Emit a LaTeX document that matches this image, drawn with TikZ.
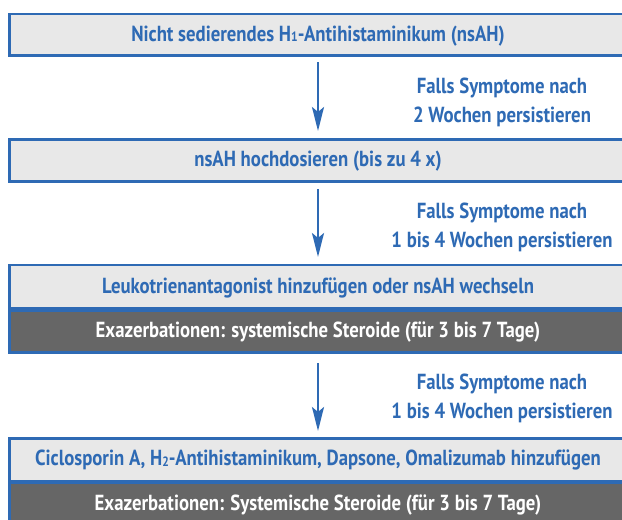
\documentclass[tikz,border=0pt]{standalone}
\usepackage{fontspec}
\setmainfont{PT Sans}[FakeStretch=0.86]
\usetikzlibrary{arrows.meta}
\definecolor{bl}{HTML}{2E6AB4}
\definecolor{lg}{HTML}{E8E8E8}
\definecolor{dg}{HTML}{666666}
\newcommand{\sbs}[1]{\raisebox{-0.8pt}{\fontsize{13.5}{13.5}\selectfont #1}}
\tikzset{
  lightbox/.style={draw=bl, line width=2.5pt, fill=lg},
  darkbox/.style={draw=bl, line width=2.5pt, fill=dg},
  boxtext/.style={font=\bfseries\fontsize{21.8}{24}\selectfont, text=bl, anchor=base, inner sep=0pt},
  darktext/.style={font=\bfseries\fontsize{21.8}{24}\selectfont, text=white, anchor=base, inner sep=0pt},
  note/.style={font=\bfseries\fontsize{21.8}{24}\selectfont, text=bl, anchor=base, inner sep=0pt},
  flow/.style={draw=bl, line width=2.5pt, -{Stealth[length=24pt, width=12pt, inset=5pt]}}
}
\begin{document}
\begin{tikzpicture}[x=1pt,y=-1pt]
\useasboundingbox (0,0) rectangle (622,520);
% box 1
\path[lightbox] (9.3,13.8) rectangle (628,55.6);
\node[boxtext] (b1) at (318,41) {Nicht sedierendes H\sbs{1}-Antihistaminikum (nsAH)};
% box 2
\path[lightbox] (9.3,139.3) rectangle (628,181.5);
\node[boxtext] (b2) at (318,166.5) {nsAH hochdosieren (bis zu 4 x)};
% box 3
\path[lightbox] (9.3,265.2) rectangle (628,308.6);
\node[boxtext] (b3) at (318,293.2) {Leukotrienantagonist hinzufügen oder nsAH wechseln};
\path[darkbox] (9.3,310.5) rectangle (628,352.3);
\node[darktext] (d3) at (318,337.8) {Exazerbationen: systemische Steroide (für 3 bis 7 Tage)};
% box 4
\path[lightbox] (9.3,438.3) rectangle (628,480.8);
\node[boxtext] (b4) at (318,465.2) {Ciclosporin A, H\sbs{2}-Antihistaminikum, Dapsone, Omalizumab hinzufügen};
\path[darkbox] (9.3,482.7) rectangle (628,530);
\node[darktext] (d4) at (318,510) {Exazerbationen: Systemische Steroide (für 3 bis 7 Tage)};
% arrows
\coordinate (a1s) at (318,62); \coordinate (a1e) at (318,131);
\coordinate (a2s) at (318,189); \coordinate (a2e) at (318,257);
\coordinate (a3s) at (318,363); \coordinate (a3e) at (318,431);
\draw[flow] (a1s) -- (a1e);
\draw[flow] (a2s) -- (a2e);
\draw[flow] (a3s) -- (a3e);
% notes
\node[note] (n1a) at (502,93.3) {Falls Symptome nach};
\node[note] (n1b) at (502,122) {2 Wochen persistieren};
\node[note] (n2a) at (502,218.5) {Falls Symptome nach};
\node[note] (n2b) at (502,247.5) {1 bis 4 Wochen persistieren};
\node[note] (n3a) at (502,389.3) {Falls Symptome nach};
\node[note] (n3b) at (502,418.3) {1 bis 4 Wochen persistieren};
\end{tikzpicture}
\end{document}
